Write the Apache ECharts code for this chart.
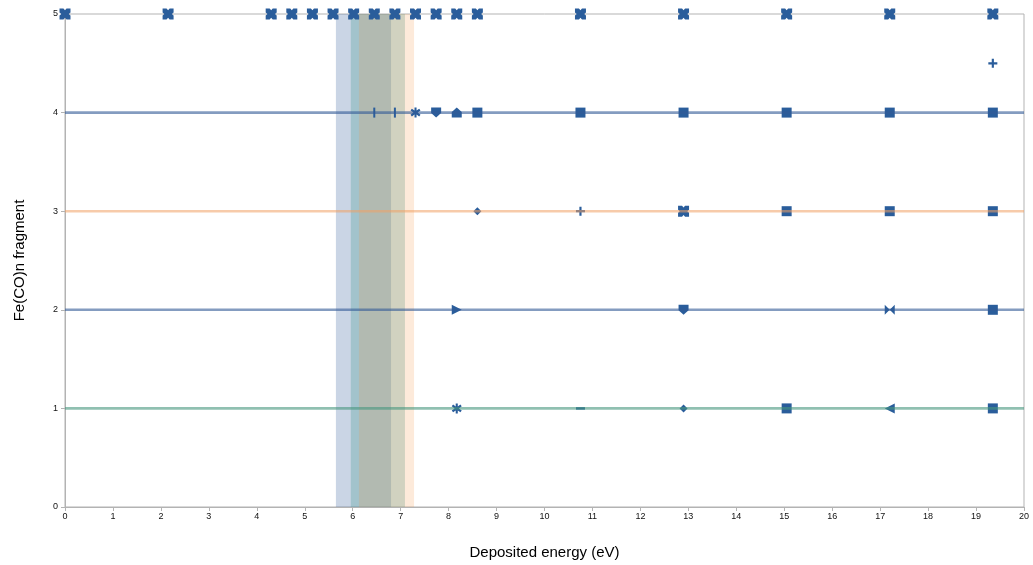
<!DOCTYPE html>
<html>
<head>
<meta charset="utf-8">
<script src="https://cdn.jsdelivr.net/npm/echarts@6/dist/echarts.min.js"></script>
<style>
  html, body { margin: 0; padding: 0; background: #fff; }
  #chart { width: 1033px; height: 565px; }
</style>
</head>
<body>
<div id="chart"></div>
<script>
// Deposited energy (eV) at which each Fe(CO)n fragment is observed
const energiesN5 = [0, 2.15, 4.3, 4.73, 5.16, 5.59, 6.02, 6.45, 6.88, 7.31, 7.74, 8.17, 8.6, 10.75, 12.9, 15.05, 17.2, 19.35];
const energiesN4 = [6.45, 6.88, 7.31, 7.74, 8.17, 8.6, 10.75, 12.9, 15.05, 17.2, 19.35];
const energiesN45 = [19.35];
const energiesN3 = [8.6, 10.75, 12.9, 15.05, 17.2, 19.35];
const energiesN2 = [8.17, 12.9, 17.2, 19.35];
const energiesN1 = [8.17, 10.75, 12.9, 15.05, 17.2, 19.35];

// Reference levels drawn as horizontal lines
const levelValues = [4, 3, 2, 1];

// Energy windows (eV) shaded behind the data
const windowRanges = [[5.65, 6.80], [5.96, 7.09], [6.13, 7.28]];

const xTicks = { min: 0, max: 20, step: 1 };
const yTicks = { min: 0, max: 5, step: 1 };

// ---- marker shapes ----
const SYM = {
  cross: 'path://M0,0H3.6L5,1.6L6.4,0H10V3.6L8.4,5L10,6.4V10H6.4L5,8.4L3.6,10H0V6.4L1.6,5L0,3.6Z',
  square: 'rect',
  diamond: 'diamond',
  vbar: 'path://M0,0H2V10H0Z',
  hbar: 'path://M0,0H10V2H0Z',
  plus: 'path://M3.8,0H6.2V3.8H10V6.2H6.2V10H3.8V6.2H0V3.8H3.8Z',
  star: 'path://M4,0H6V3L8.5,1.2L9.8,2.8L7,5L9.8,7.2L8.5,8.8L6,7V10H4V7L1.5,8.8L0.2,7.2L3,5L0.2,2.8L1.5,1.2L4,3Z',
  down: 'path://M0,0H10V5.5L5,10L0,5.5Z',
  up: 'path://M5,0L10,4.5V10H0V4.5Z',
  bowtie: 'path://M0,0L10,10V0L0,10Z',
  hourglass: 'path://M0,0H10L0,10H10Z',
  right: 'path://M0,0L10,5L0,10Z',
  left: 'path://M10,0L0,5L10,10Z'
};
const SIZE = {
  cross: 11, square: 10, diamond: 8, vbar: [2, 10], hbar: [9, 2.5], plus: 9,
  star: 10, down: 10, up: 10, bowtie: 10, hourglass: 10, right: 10, left: 10
};

const shapesN5 = energiesN5.map(() => 'cross');
const shapesN4 = ['vbar', 'vbar', 'star', 'down', 'up', 'square', 'square', 'square', 'square', 'square', 'square'];
const shapesN45 = ['plus'];
const shapesN3 = ['diamond', 'plus', 'cross', 'square', 'square', 'square'];
const shapesN2 = ['right', 'down', 'bowtie', 'square'];
const shapesN1 = ['star', 'hbar', 'diamond', 'square', 'left', 'square'];

const markerColor = '#2a5d9b';

function pointSeries(xs, level, shapes) {
  return {
    type: 'scatter',
    z: 3,
    silent: true,
    itemStyle: { color: markerColor, opacity: 1 },
    data: xs.map((x, i) => ({
      value: [x, level],
      symbol: SYM[shapes[i]],
      symbolSize: SIZE[shapes[i]]
    }))
  };
}

const lineColors = ['rgba(50,90,150,0.6)', 'rgba(240,160,100,0.55)', 'rgba(50,90,150,0.6)', 'rgba(70,150,125,0.6)'];
const bandColors = ['rgba(58,100,160,0.27)', 'rgba(60,150,140,0.28)', 'rgba(247,150,70,0.2)'];

const series = [];

// shaded energy windows
windowRanges.forEach((r, i) => {
  series.push({
    type: 'line',
    data: [],
    silent: true,
    z: 1,
    markArea: {
      silent: true,
      itemStyle: { color: bandColors[i] },
      data: [[{ xAxis: r[0] }, { xAxis: r[1] }]]
    }
  });
});

series.push(pointSeries(energiesN5, 5, shapesN5));
series.push(pointSeries(energiesN4, 4, shapesN4));
series.push(pointSeries(energiesN45, 4.5, shapesN45));
series.push(pointSeries(energiesN3, 3, shapesN3));
series.push(pointSeries(energiesN2, 2, shapesN2));
series.push(pointSeries(energiesN1, 1, shapesN1));

// horizontal reference lines, drawn over the markers
levelValues.forEach((lv, i) => {
  series.push({
    type: 'line',
    z: 4,
    silent: true,
    symbol: 'none',
    lineStyle: { color: lineColors[i], width: 2.6 },
    data: [[xTicks.min, lv], [xTicks.max, lv]]
  });
});

const axisGray = '#b3b3b3';
const chart = echarts.init(document.getElementById('chart'), null, { renderer: 'canvas' });
chart.setOption({
  animation: false,
  backgroundColor: '#ffffff',
  textStyle: { fontFamily: 'Liberation Sans, Arial, sans-serif' },
  grid: {
    left: 65, right: 9, top: 14, bottom: 58,
    show: true, borderColor: axisGray, borderWidth: 1
  },
  xAxis: {
    type: 'value',
    min: xTicks.min, max: xTicks.max, interval: xTicks.step,
    name: 'Deposited energy (eV)',
    nameLocation: 'middle', nameGap: 38,
    nameTextStyle: { fontSize: 15, color: '#000' },
    axisLine: { show: true, lineStyle: { color: axisGray } },
    axisTick: { show: true, length: 4, lineStyle: { color: axisGray } },
    axisLabel: { fontSize: 9, color: '#111', margin: 5 },
    splitLine: { show: false }
  },
  yAxis: {
    type: 'value',
    min: yTicks.min, max: yTicks.max, interval: yTicks.step,
    name: 'Fe(CO)n fragment',
    nameLocation: 'middle', nameGap: 38,
    nameTextStyle: { fontSize: 15, color: '#000' },
    axisLine: { show: true, lineStyle: { color: axisGray } },
    axisTick: { show: true, length: 4, lineStyle: { color: axisGray } },
    axisLabel: { fontSize: 9, color: '#111', margin: 7 },
    splitLine: { show: false }
  },
  series: series
});
</script>
</body>
</html>
